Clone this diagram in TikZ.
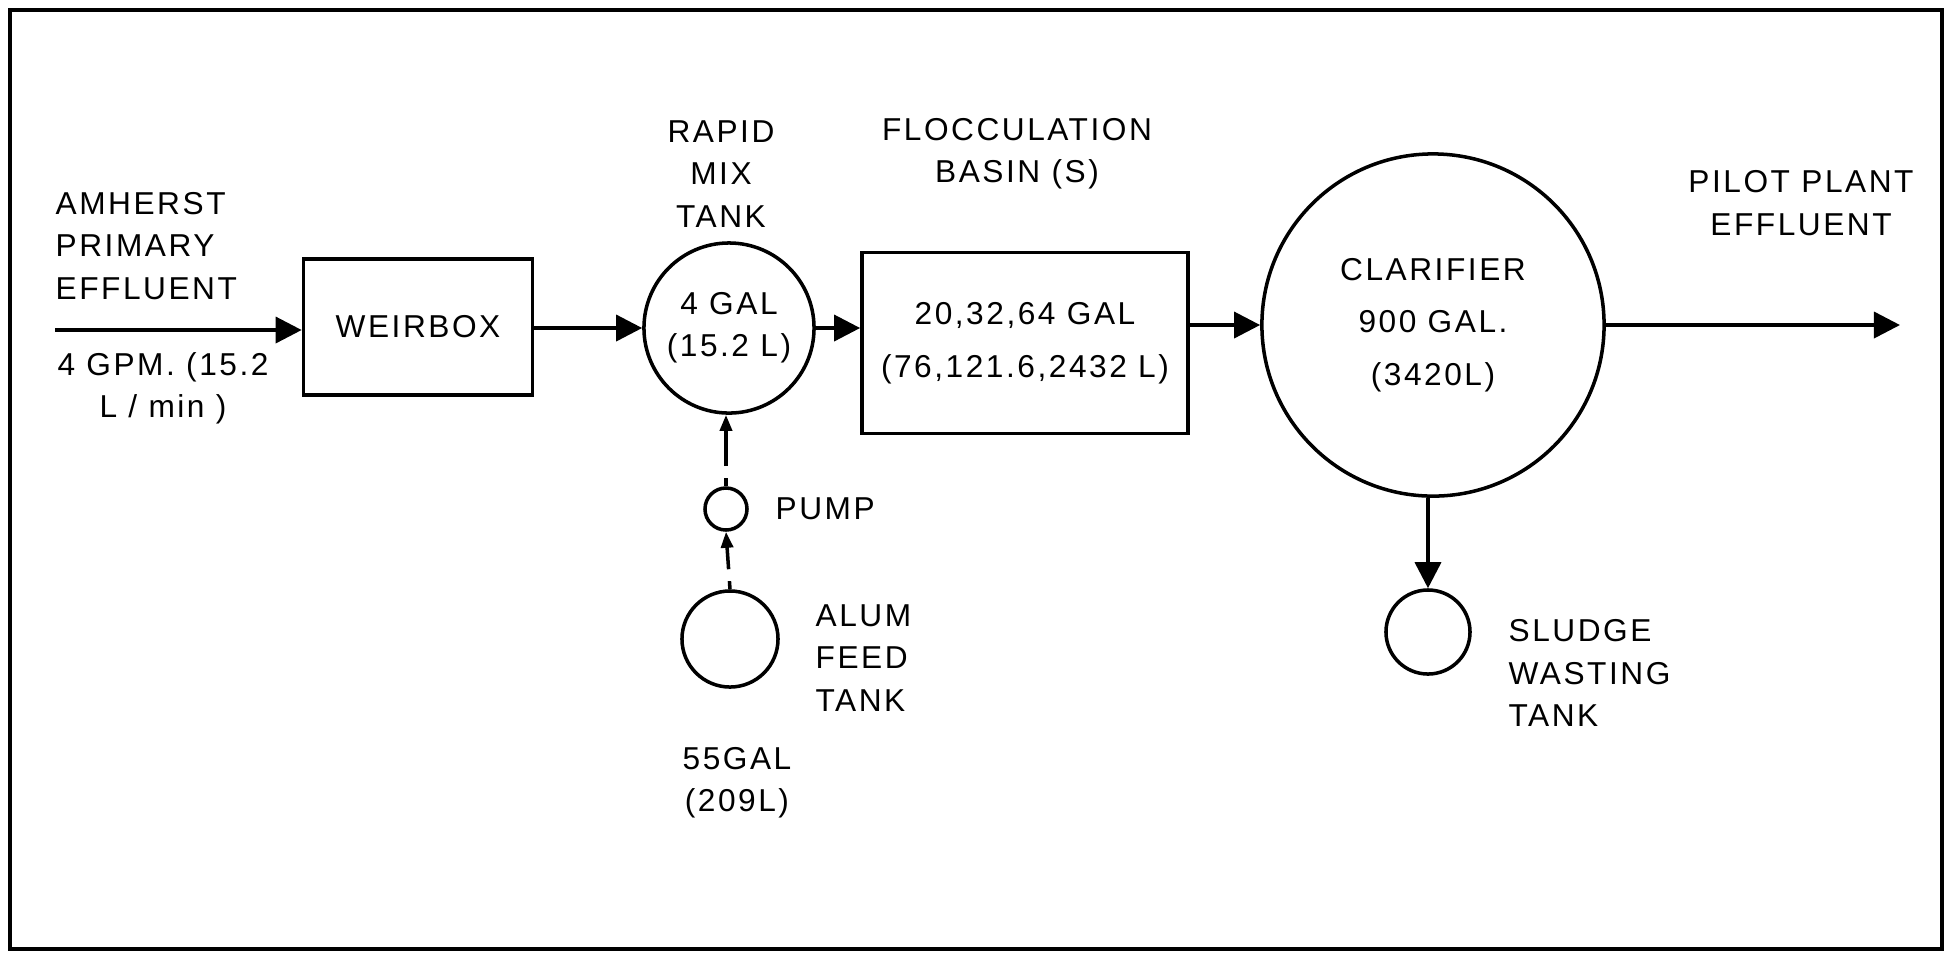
\documentclass[tikz,border=0pt]{standalone}
\usepackage{fontspec}
\setmainfont[LetterSpace=8]{Liberation Sans}
\usetikzlibrary{arrows.meta}

\begin{document}
\begin{tikzpicture}
        [x=0.01cm,y=-0.01cm,
        every node/.style={font=\fontsize{9}{12}\selectfont,align=center,inner sep=0pt},
        tank/.style={draw,circle,line width=1pt},
        basin/.style={draw,rectangle,line width=1pt},
        flow/.style={-{Triangle[length=2.6mm,width=2.6mm]},line width=1pt},
        feed/.style={-{Triangle[length=1.6mm,width=1.2mm]},line width=1pt,
          dash pattern=on 2.3pt off 3.4pt on 40pt off 0pt}]
        \useasboundingbox (0,0) rectangle (1950,953);
        \draw[line width=1.1pt] (10,10) rectangle (1942,949);
        \node[basin,minimum width=2.29cm,minimum height=1.36cm] (weir) at (418,327) {WEIRBOX};
        \node[tank,minimum size=1.70cm] (rapid) at (729,328) {4 GAL\\(15.2 L)};
        \node[basin,minimum width=3.26cm,minimum height=1.81cm] (floc) at (1025,343)
          {20,32,64 GAL\\[3pt](76,121.6,2432 L)};
        \node[tank,minimum size=3.42cm] (clar) at (1433,325)
          {CLARIFIER\\[3pt]900 GAL.\\[3pt](3420L)\hspace*{0pt}};
        \node[tank,minimum size=0.84cm] (sludge) at (1428,632) {};
        \node[tank,minimum size=0.42cm] (pump) at (726,509) {};
        \node[tank,minimum size=0.96cm] (alum) at (730,639) {};
        \coordinate (in) at (55,330);
        \coordinate (out) at (1900,325);
        \node[anchor=west,align=left] (source) at (55,246) {AMHERST\\PRIMARY\\EFFLUENT};
        \node (rate) at (163,388) {4 GPM. (15.2\\L / min )};
        \node (rapidlbl) at (721,174) {RAPID\\MIX\\TANK};
        \node (floclbl) at (1017,154) {FLOCCULATION\\BASIN (S)};
        \node (effluent) at (1801,203) {PILOT PLANT\\EFFLUENT};
        \node[anchor=west] (pumplbl) at (775,509) {PUMP};
        \node[anchor=west,align=left] (alumlbl) at (815,658) {ALUM\\FEED\\TANK};
        \node (alumvol) at (737,783) {55GAL\\(209L)};
        \node[anchor=west,align=left] (sludgelbl) at (1508,673) {SLUDGE\\WASTING\\TANK};
        \draw[flow] (in) -- (in -| weir.west);
        \draw[flow] (weir.east |- rapid.west) -- (rapid.west);
        \draw[flow] (rapid.east) -- (rapid.east -| floc.west);
        \draw[flow] (floc.east |- clar.west) -- (clar.west);
        \draw[flow] (clar.east) -- (out);
        \draw[flow] (clar.south -| sludge) -- (sludge.north);
        \draw[feed] (alum.north) -- (pump.south);
        \draw[feed] (pump.north) -- (pump.north |- rapid.south);
        \end{tikzpicture}
\end{document}
